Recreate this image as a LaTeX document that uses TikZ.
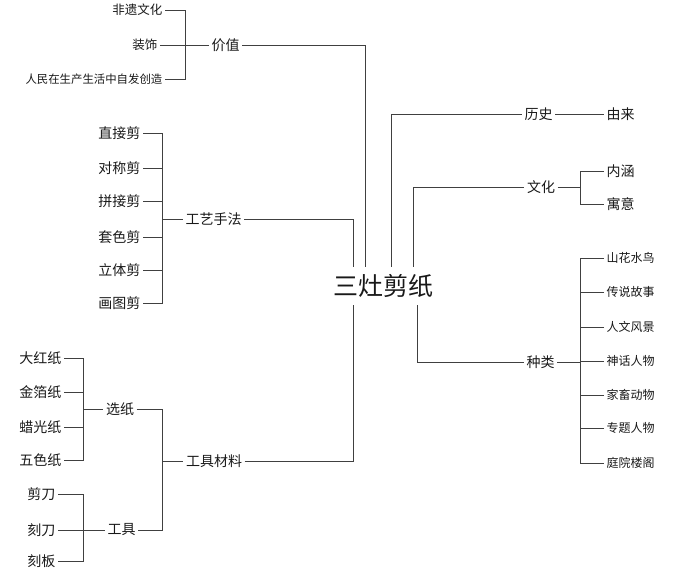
\documentclass[tikz,border=0pt]{standalone}
\usepackage{fontspec}
\newfontfamily\cjk{Noto Sans CJK SC}
\usepackage{tikz}

\tikzset{
	lbl/.style={font=\cjk\fontsize{14}{16}\selectfont, text=black!90, inner sep=2.5pt},
	lbls/.style={font=\cjk\fontsize{12.5}{15}\selectfont, text=black!90, inner sep=2.5pt},
	lblt/.style={font=\cjk\fontsize{12}{14}\selectfont, text=black!90, inner sep=2.5pt},
	branch/.style={draw=black!75, line width=0.8pt}
}

\begin{document}
\begin{tikzpicture}[x=1pt, y=-1pt]
	\useasboundingbox (0,0) rectangle (676,580);
	% centre
	\node[font=\cjk\fontsize{25}{28}\selectfont, text=black!90, inner sep=0pt, minimum height=38pt] (root) at (383.5,286) {三灶剪纸};
	% elbows and brackets
	\coordinate (kJ) at (365,0);
	\coordinate (kG) at (353,0);
	\coordinate (kL) at (391,0);
	\coordinate (kW) at (413,0);
	\coordinate (kZ) at (417,0);
	\coordinate (bJ) at (185,0);
	\coordinate (bG) at (162,0);
	\coordinate (bC) at (162,0);
	\coordinate (bX) at (83,0);
	\coordinate (bT) at (83,0);
	\coordinate (bW) at (580,0);
	\coordinate (bZ) at (580,0);
	% labels left
	\node[lbl] (jiazhi) at (225.5,45) {价值};
	\node[lbls, anchor=east] (feiyi) at (165,10) {非遗文化};
	\node[lbls, anchor=east] (zhuangshi) at (160,45) {装饰};
	\node[lbls, font=\cjk\fontsize{11.4}{14}\selectfont, anchor=east] (renmin) at (165,79) {人民在生产生活中自发创造};
	\node[lbl] (gongyi) at (213.5,219) {工艺手法};
	\node[lbl, anchor=east] (zhijie) at (143,133) {直接剪};
	\node[lbl, anchor=east] (duichen) at (143,168) {对称剪};
	\node[lbl, anchor=east] (pinjie) at (143,201) {拼接剪};
	\node[lbl, anchor=east] (taose) at (143,237) {套色剪};
	\node[lbl, anchor=east] (liti) at (143,270) {立体剪};
	\node[lbl, anchor=east] (huatu) at (143,303) {画图剪};
	\node[lbl] (cailiao) at (214,461) {工具材料};
	\node[lbl] (xuanzhi) at (120,409) {选纸};
	\node[lbl] (gongju) at (121.5,530) {工具};
	\node[lbl, anchor=east] (dahong) at (64,358) {大红纸};
	\node[lbl, anchor=east] (jinbo) at (64,392) {金箔纸};
	\node[lbl, anchor=east] (laguang) at (64,427) {蜡光纸};
	\node[lbl, anchor=east] (wuse) at (64,460) {五色纸};
	\node[lbl, anchor=east] (jiandao) at (58,494) {剪刀};
	\node[lbl, anchor=east] (kedao) at (58,530) {刻刀};
	\node[lbl, anchor=east] (keban) at (58,561) {刻板};
	% labels right
	\node[lbl] (lishi) at (538.5,114) {历史};
	\node[lbl, anchor=west] (youlai) at (604,114) {由来};
	\node[lbl] (wenhua) at (541,187) {文化};
	\node[lbl, anchor=west] (neihan) at (604,171) {内涵};
	\node[lbl, anchor=west] (yuyi) at (604,204) {寓意};
	\node[lbl] (zhonglei) at (540.5,362) {种类};
	\node[lblt, anchor=west] (shanhua) at (604,258) {山花水鸟};
	\node[lblt, anchor=west] (chuanshuo) at (604,292) {传说故事};
	\node[lblt, anchor=west] (renwen) at (604,327) {人文风景};
	\node[lblt, anchor=west] (shenhua) at (604,361) {神话人物};
	\node[lblt, anchor=west] (jiachu) at (604,395) {家畜动物};
	\node[lblt, anchor=west] (zhuanti) at (604,428) {专题人物};
	\node[lblt, anchor=west] (tingyuan) at (604,463) {庭院楼阁};
	% lines to centre
	\draw [branch] (jiazhi.east) -| (root.north -| kJ);
	\draw [branch] (gongyi.east) -| (root.north -| kG);
	\draw [branch] (cailiao.east) -| (root.south -| kG);
	\draw [branch] (root.north -| kL) |- (lishi.west);
	\draw [branch] (root.north -| kW) |- (wenhua.west);
	\draw [branch] (root.south -| kZ) |- (zhonglei.west);
	% value
	\draw [branch] (zhuangshi.east) -- (jiazhi.west);
	\draw [branch] (feiyi.east) -| (bJ |- renmin.east) -- (renmin.east);
	% craft
	\draw [branch] (zhijie.east) -| (bG |- huatu.east) -- (huatu.east);
	\draw [branch] (duichen.east) -- (bG |- duichen.east);
	\draw [branch] (pinjie.east) -- (bG |- pinjie.east);
	\draw [branch] (taose.east) -- (bG |- taose.east);
	\draw [branch] (liti.east) -- (bG |- liti.east);
	\draw [branch] (bG |- gongyi.west) -- (gongyi.west);
	% material
	\draw [branch] (xuanzhi.east) -| (bC |- gongju.east) -- (gongju.east);
	\draw [branch] (bC |- cailiao.west) -- (cailiao.west);
	\draw [branch] (dahong.east) -| (bX |- wuse.east) -- (wuse.east);
	\draw [branch] (jinbo.east) -- (bX |- jinbo.east);
	\draw [branch] (laguang.east) -- (bX |- laguang.east);
	\draw [branch] (bX |- xuanzhi.west) -- (xuanzhi.west);
	\draw [branch] (jiandao.east) -| (bT |- keban.east) -- (keban.east);
	\draw [branch] (kedao.east) -- (gongju.west);
	% history and culture
	\draw [branch] (lishi.east) -- (youlai.west);
	\draw [branch] (wenhua.east) -- (bW |- wenhua.east);
	\draw [branch] (neihan.west) -| (bW |- yuyi.west) -- (yuyi.west);
	% kinds
	\draw [branch] (zhonglei.east) -- (bZ |- zhonglei.east);
	\draw [branch] (shanhua.west) -| (bZ |- tingyuan.west) -- (tingyuan.west);
	\draw [branch] (chuanshuo.west) -- (bZ |- chuanshuo.west);
	\draw [branch] (renwen.west) -- (bZ |- renwen.west);
	\draw [branch] (shenhua.west) -- (bZ |- shenhua.west);
	\draw [branch] (jiachu.west) -- (bZ |- jiachu.west);
	\draw [branch] (zhuanti.west) -- (bZ |- zhuanti.west);
\end{tikzpicture}
\end{document}
